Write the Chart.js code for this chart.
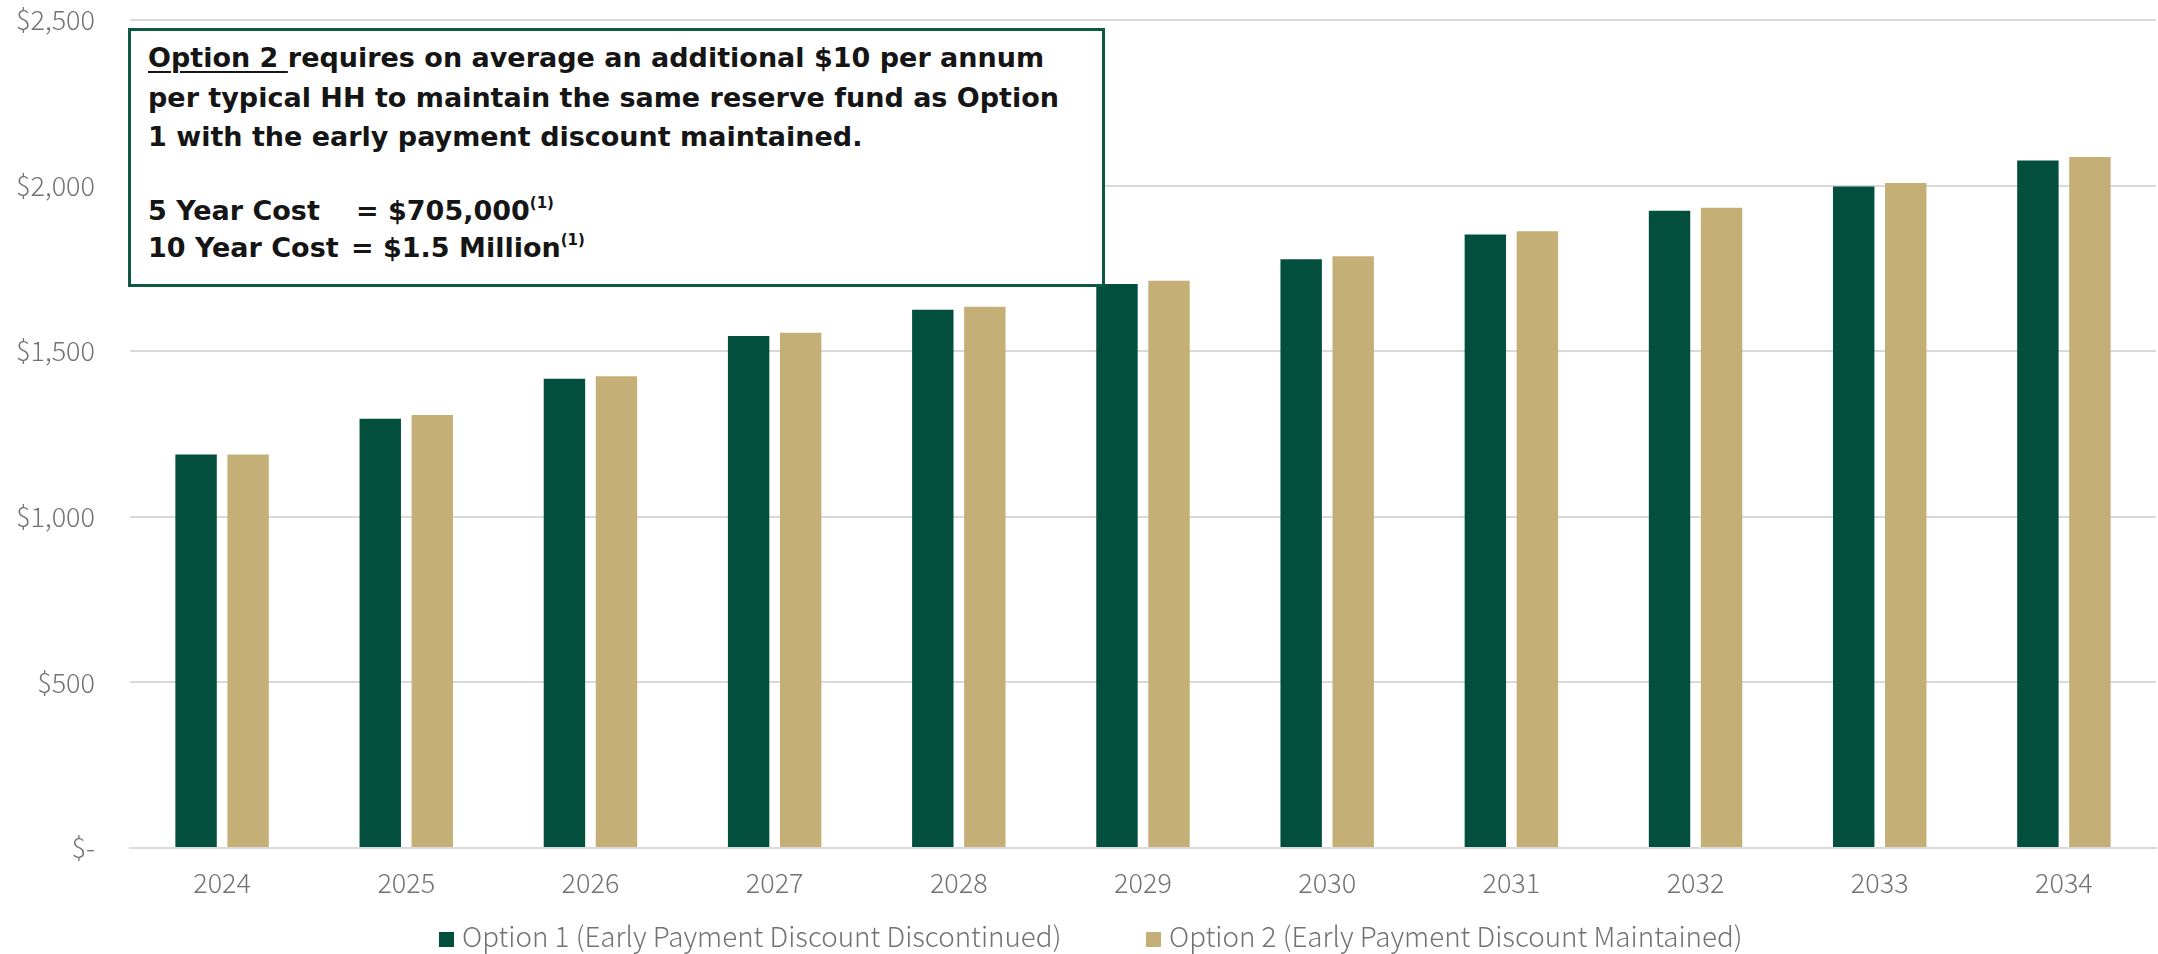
<!DOCTYPE html>
<html>
<head>
<meta charset="utf-8">
<script src="https://cdn.jsdelivr.net/npm/chart.js@4"></script>
<style>
  html, body { margin: 0; padding: 0; background: #fff; }
  #wrap { position: relative; width: 2158px; height: 954px; }
  #chart { position: absolute; left: 0; top: 0; }
  #note {
    position: absolute; left: 128px; top: 28px; width: 977px; height: 259px;
    box-sizing: border-box; border: 3px solid #0e5742; background: #fff;
    padding: 7px 0 0 17px;
    font-family: "DejaVu Sans", sans-serif; font-weight: bold; font-size: 27px;
    line-height: 39.5px; color: #151515; white-space: nowrap;
  }
  #note u { text-decoration-thickness: 2px; text-underline-offset: 4px; }
  #note .costs { line-height: 37.5px; margin-top: 35px; }
  #note .lbl { display: inline-block; }
  #note sup { font-size: 15px; line-height: 0; vertical-align: 12px; font-weight: bold; }
  .leg {
    position: absolute; top: 922px;
    font-family: "Noto Sans CJK JP", sans-serif; font-weight: 300; font-size: 27.8px;
    line-height: 1; color: #767171; white-space: nowrap;
  }
  .leg .sw { display: inline-block; width: 15px; height: 15px; margin-right: 8px; }
</style>
</head>
<body>
<div id="wrap">
  <canvas id="chart" width="2158" height="954"></canvas>
  <div id="note">
    <u>Option 2 </u>requires on average an additional $10 per annum<br>
    per typical HH to maintain the same reserve fund as Option<br>
    1 with the early payment discount maintained.
    <div class="costs">
      <span class="lbl" style="width:208px">5 Year Cost</span>= $705,000<sup>(1)</sup><br>
      <span class="lbl" style="width:203px">10 Year Cost</span>= $1.5 Million<sup>(1)</sup>
    </div>
  </div>
  <div id="legend"></div>
</div>
<script>
var years = ['2024', '2025', '2026', '2027', '2028', '2029', '2030', '2031', '2032', '2033', '2034'];
var option1 = [1188, 1296, 1417, 1546, 1625, 1703, 1778, 1852, 1924, 1997, 2076];
var option2 = [1188, 1307, 1424, 1556, 1634, 1713, 1787, 1862, 1933, 2008, 2086];
var seriesNames = ['Option 1 (Early Payment Discount Discontinued)', 'Option 2 (Early Payment Discount Maintained)'];
var yTickLabels = ['$-', '$500', '$1,000', '$1,500', '$2,000', '$2,500'];

var green = '#024f3d';
var tan = '#c4af77';
var tickFont = { family: '"Noto Sans CJK JP", sans-serif', size: 27, weight: 300 };

var config = {
  type: 'bar',
  data: {
    labels: years,
    datasets: [{
      label: seriesNames[0],
      data: option1,
      backgroundColor: green,
      categoryPercentage: 0.565,
      barPercentage: 0.796
    }, {
      label: seriesNames[1],
      data: option2,
      backgroundColor: tan,
      categoryPercentage: 0.565,
      barPercentage: 0.796
    }]
  },
  options: {
    responsive: false,
    animation: false,
    devicePixelRatio: 1,
    layout: {
      padding: { top: 20, right: 2, left: 0, bottom: 0 }
    },
    plugins: {
      legend: { display: false },
      tooltip: { enabled: false }
    },
    scales: {
      x: {
        grid: { display: false },
        border: { display: true, color: '#d9d9d9', width: 2 },
        ticks: { color: '#767171', font: tickFont, padding: 11 },
        afterFit: function (scale) { scale.height = 106; }
      },
      y: {
        min: 0,
        max: 2500,
        // invisible tick marks keep the labels clear of the grid lines
        grid: { color: '#d9d9d9', lineWidth: 2, drawTicks: true, tickLength: 35, tickColor: 'rgba(0,0,0,0)' },
        border: { display: false },
        ticks: {
          stepSize: 500,
          color: '#767171',
          font: tickFont,
          padding: 0,
          callback: function (value, index) {
            return yTickLabels[index];
          }
        },
        afterFit: function (scale) { scale.width = 130; }
      }
    }
  }
};

window.onload = function () {
  var ctx = document.getElementById('chart').getContext('2d');
  window.myBar = new Chart(ctx, config);

  // legend built from the datasets, laid out under the axis
  var legendLeft = [439, 1146];
  var holder = document.getElementById('legend');
  window.myBar.data.datasets.forEach(function (ds, i) {
    var item = document.createElement('div');
    item.className = 'leg';
    item.style.left = legendLeft[i] + 'px';
    var sw = document.createElement('span');
    sw.className = 'sw';
    sw.style.background = ds.backgroundColor;
    item.appendChild(sw);
    item.appendChild(document.createTextNode(ds.label));
    holder.appendChild(item);
  });
};
</script>
</body>
</html>
